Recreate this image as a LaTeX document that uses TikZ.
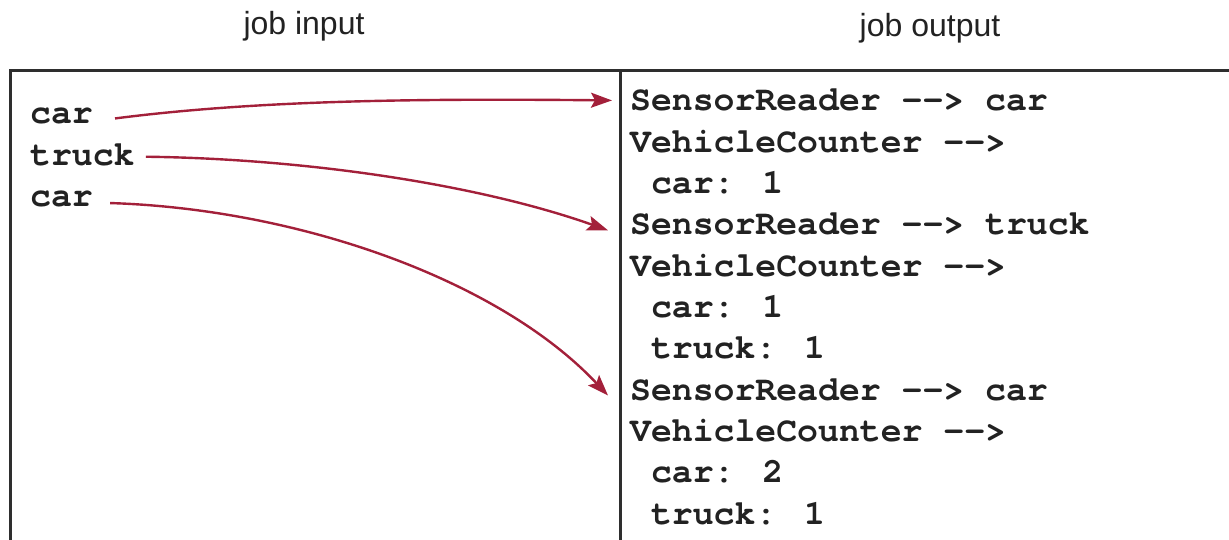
\documentclass[tikz,border=0pt]{standalone}
\usepackage{fontspec}
\setmainfont{Liberation Sans}
\newfontfamily\codefont{texgyrecursor}[Extension=.otf,
  UprightFont=*-regular, BoldFont=*-bold]
\usetikzlibrary{arrows.meta,calc}
\definecolor{flowred}{HTML}{A3203A}
\definecolor{ink}{HTML}{222222}
\definecolor{frame}{HTML}{2E2E2E}
\tikzset{
  code/.style={anchor=base west, inner sep=0pt, text=ink,
    font=\codefont\bfseries\fontsize{34.8}{41.3}\selectfont},
  title/.style={anchor=base, inner sep=0pt, text=ink,
    font=\fontsize{32}{36}\selectfont},
  flow/.style={draw=flowred, line width=2.4pt,
    -{Stealth[length=21pt, width=15pt, inset=4pt]}},
  rule/.style={draw=frame, line width=3pt}
}
\begin{document}
\begin{tikzpicture}[x=1pt, y=-1pt]
  \useasboundingbox (0,0) rectangle (1229,540);

  % column headings
  \node[title] (tin)  at (304,35) {job input};
  \node[title] (tout) at (930,37) {job output};

  % table frame: top rule, left edge and column divider
  \draw[rule] (10,541) -- (10,71) -- (1230,71);
  \draw[rule] (620,71) -- (620,541);

  % input records
  \node[code] (i1) at (30,124.0) {car};
  \node[code] (i2) at (30,165.3) {truck};
  \node[code] (i3) at (30,206.6) {car};

  % output log
  \def\ind{650.9}
  \node[code] (o1)  at (630,111.0) {SensorReader -{}-{}> car};
  \node[code] (o2)  at (630,152.3) {VehicleCounter -{}-{}>};
  \node[code] (o3)  at (\ind,193.6) {car: 1};
  \node[code] (o4)  at (630,234.9) {SensorReader -{}-{}> truck};
  \node[code] (o5)  at (630,276.2) {VehicleCounter -{}-{}>};
  \node[code] (o6)  at (\ind,317.5) {car: 1};
  \node[code] (o7)  at (\ind,358.8) {truck: 1};
  \node[code] (o8)  at (630,400.1) {SensorReader -{}-{}> car};
  \node[code] (o9)  at (630,441.4) {VehicleCounter -{}-{}>};
  \node[code] (o10) at (\ind,482.7) {car: 2};
  \node[code] (o11) at (\ind,524.0) {truck: 1};

  % each input record flows to the reader line it produces
  \draw[flow] ($(i1.east)+(22,2)$)
      .. controls +(140,-18) and +(-200,-2) .. ($(o1.west)+(-18,0)$);
  \draw[flow] ($(i2.east)+(11,2)$)
      .. controls +(160,2) and +(-130,-46) .. ($(o4.west)+(-22,6)$);
  \draw[flow] ($(i3.east)+(17,4)$)
      .. controls +(190,6) and +(-108,-115) .. ($(o8.west)+(-22,6)$);
\end{tikzpicture}
\end{document}
